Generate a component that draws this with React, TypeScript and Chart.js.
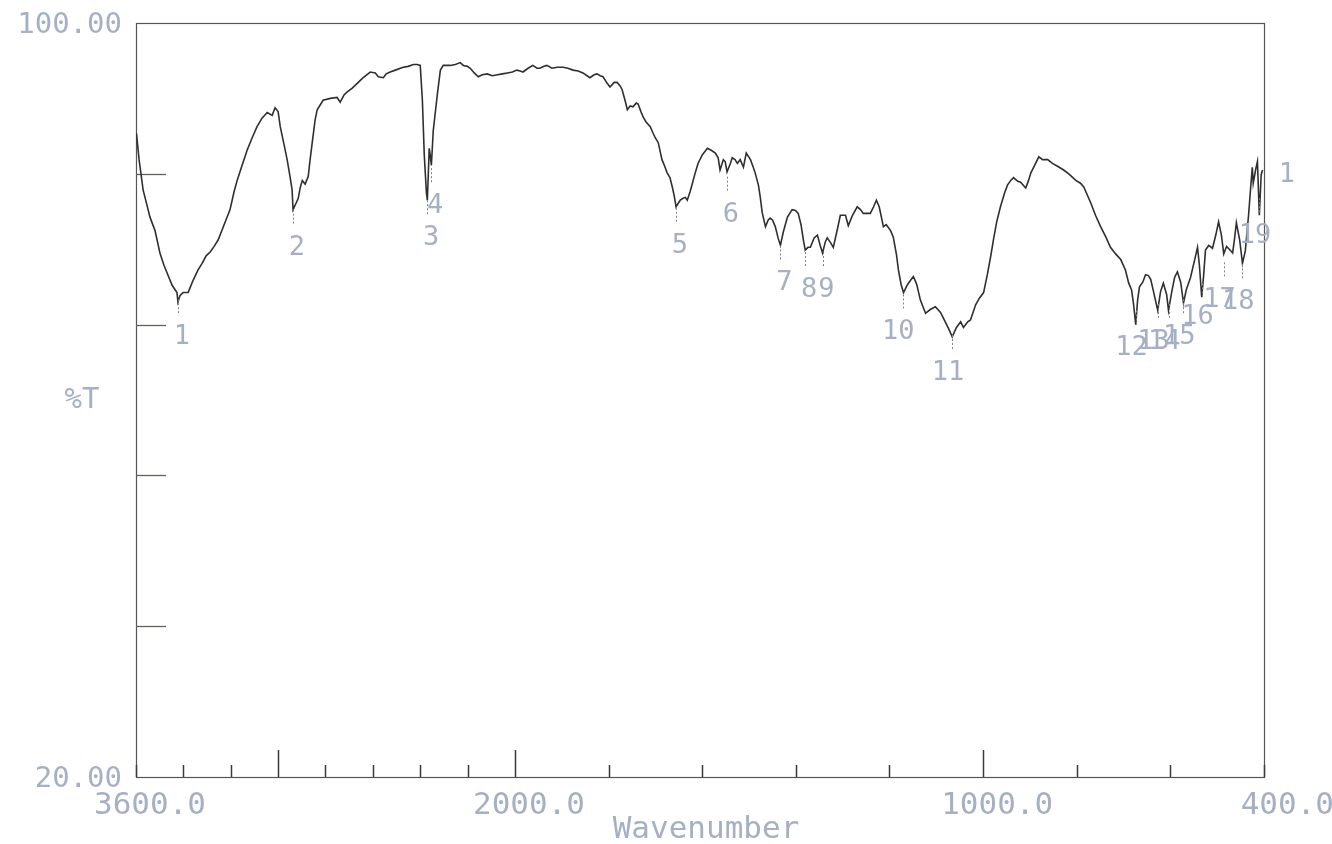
import React, { useEffect, useRef } from 'react';
import { Chart, registerables, LinearScale } from 'chart.js';

// ---- Spectrum data (wavenumber cm-1, %T) ----
const WAVENUMBER = [
  3598, 3587, 3570, 3554, 3541, 3520, 3499, 3482, 3469, 3448, 3435, 3427, 3423, 3414, 3401, 3380, 3372, 3359, 3338, 3321,
  3304, 3287, 3270, 3253, 3228, 3203, 3186, 3173, 3152, 3131, 3110, 3089, 3068, 3046, 3025, 3013, 3000, 2991, 2975, 2962,
  2949, 2941, 2937, 2924, 2915, 2907, 2898, 2886, 2873, 2865, 2856, 2844, 2835, 2810, 2780, 2751, 2738, 2721, 2708, 2687,
  2666, 2641, 2611, 2590, 2577, 2556, 2544, 2527, 2505, 2484, 2472, 2451, 2429, 2413, 2400, 2391, 2383, 2374, 2370, 2366,
  2362, 2357, 2353, 2345, 2328, 2315, 2303, 2273, 2252, 2231, 2218, 2201, 2189, 2172, 2155, 2138, 2117, 2096, 2074, 2053,
  2032, 2011, 1996, 1989, 1983, 1972, 1962, 1953, 1947, 1938, 1932, 1921, 1910, 1897, 1887, 1876, 1865, 1855, 1846, 1840,
  1831, 1825, 1818, 1812, 1803, 1797, 1788, 1782, 1775, 1771, 1765, 1760, 1754, 1748, 1741, 1737, 1731, 1726, 1720, 1711,
  1705, 1701, 1694, 1686, 1681, 1675, 1669, 1664, 1660, 1656, 1651, 1647, 1641, 1636, 1632, 1626, 1621, 1615, 1609, 1600,
  1589, 1581, 1572, 1566, 1562, 1555, 1551, 1547, 1540, 1536, 1530, 1525, 1519, 1512, 1506, 1497, 1491, 1487, 1480, 1476,
  1472, 1465, 1459, 1455, 1450, 1444, 1438, 1433, 1427, 1418, 1408, 1401, 1395, 1389, 1384, 1380, 1374, 1369, 1361, 1354,
  1348, 1343, 1337, 1333, 1326, 1320, 1311, 1305, 1294, 1288, 1279, 1269, 1262, 1256, 1241, 1234, 1228, 1222, 1213, 1207,
  1198, 1192, 1185, 1181, 1175, 1170, 1162, 1155, 1149, 1142, 1134, 1123, 1113, 1102, 1091, 1083, 1074, 1066, 1057, 1048,
  1042, 1033, 1027, 1016, 1008, 999, 991, 984, 978, 971, 963, 954, 948, 941, 935, 926, 920, 909, 903, 898,
  890, 881, 873, 862, 852, 841, 828, 817, 802, 792, 785, 777, 770, 760, 749, 738, 728, 717, 706, 696,
  689, 683, 679, 674, 670, 666, 659, 653, 647, 642, 636, 627, 621, 615, 608, 604, 597, 591, 585, 578,
  572, 566, 557, 548, 542, 538, 533, 529, 525, 518, 510, 503, 497, 491, 486, 480, 474, 467, 463, 459,
  452, 446, 440, 433, 429, 425, 423, 418, 414, 410, 406, 403,
];
const TRANSMITTANCE = [
  88.3, 85.5, 82.3, 80.7, 79.4, 78.0, 75.6, 74.3, 73.5, 72.2, 71.7, 71.4, 70.4, 71.1, 71.4, 71.4, 71.9, 72.7, 73.8, 74.5,
  75.3, 75.7, 76.3, 77.0, 78.6, 80.2, 82.1, 83.3, 84.9, 86.5, 87.8, 89.0, 89.9, 90.5, 90.2, 91.0, 90.6, 89.0, 87.1, 85.5,
  83.6, 82.3, 80.2, 80.9, 81.4, 82.5, 83.3, 82.9, 83.7, 85.5, 87.3, 89.7, 90.8, 91.8, 92.0, 92.1, 91.6, 92.4, 92.7, 93.1,
  93.6, 94.2, 94.8, 94.7, 94.3, 94.2, 94.6, 94.8, 95.0, 95.2, 95.3, 95.4, 95.6, 95.6, 95.5, 91.8, 86.0, 82.0, 81.2, 84.0,
  86.7, 85.8, 84.9, 88.6, 92.4, 95.0, 95.5, 95.5, 95.6, 95.8, 95.5, 95.4, 95.2, 94.7, 94.3, 94.5, 94.6, 94.4, 94.5, 94.6,
  94.7, 94.8, 95.0, 94.9, 94.8, 95.2, 95.5, 95.2, 95.2, 95.4, 95.5, 95.2, 95.3, 95.3, 95.2, 95.0, 94.9, 94.7, 94.4, 94.2,
  94.5, 94.6, 94.4, 94.3, 93.6, 93.2, 93.7, 93.7, 93.3, 92.9, 91.8, 90.8, 91.2, 91.1, 91.5, 91.4, 90.6, 90.0, 89.5, 89.0,
  88.3, 87.9, 87.3, 85.5, 84.9, 84.1, 83.6, 82.6, 81.7, 80.5, 80.9, 81.2, 81.4, 81.5, 81.2, 82.1, 83.0, 84.1, 85.1, 86.0,
  86.7, 86.5, 86.2, 85.7, 84.4, 85.5, 85.3, 84.2, 85.1, 85.7, 85.5, 85.1, 85.5, 84.7, 86.2, 85.5, 84.7, 84.1, 82.8, 81.5,
  79.9, 78.4, 79.1, 79.3, 79.1, 78.4, 77.2, 76.4, 77.8, 79.4, 80.2, 80.1, 79.8, 78.6, 77.0, 75.9, 76.2, 76.2, 77.2, 77.5,
  76.4, 75.6, 76.8, 77.2, 76.7, 76.2, 78.2, 79.6, 79.6, 78.5, 79.6, 80.5, 80.2, 79.8, 79.8, 80.5, 81.2, 80.5, 78.4, 78.6,
  78.0, 77.3, 75.4, 73.8, 72.2, 71.4, 72.2, 72.7, 73.1, 72.3, 70.6, 69.2, 69.6, 69.9, 69.3, 68.5, 67.6, 66.7, 67.7, 68.3,
  67.7, 68.3, 68.5, 70.1, 70.8, 71.4, 73.3, 75.2, 77.0, 78.9, 80.5, 82.0, 82.8, 83.3, 83.6, 83.2, 83.1, 82.5, 83.3, 84.1,
  84.9, 85.8, 85.5, 85.5, 85.1, 84.8, 84.4, 84.0, 83.3, 83.0, 82.6, 81.7, 80.9, 79.6, 78.4, 77.3, 76.2, 75.5, 74.9, 73.8,
  72.4, 71.7, 70.3, 68.0, 70.6, 72.0, 72.5, 73.3, 73.2, 72.8, 71.5, 69.5, 71.5, 72.4, 71.2, 69.5, 71.5, 73.0, 73.6, 72.5,
  70.3, 71.7, 73.0, 74.9, 76.2, 74.3, 70.9, 73.2, 75.9, 76.4, 76.1, 77.5, 78.9, 77.5, 75.5, 76.3, 76.0, 75.6, 77.1, 78.8,
  77.0, 74.5, 75.8, 79.6, 82.2, 84.7, 83.0, 84.4, 85.3, 79.6, 83.9, 84.4,
];

// ---- Peak table ----
const PEAK_LABELS = ['1', '2', '3', '4', '5', '6', '7', '8', '9', '10', '11', '12', '13', '14', '15', '16', '17', '18', '19'];
const PEAK_WN = [3423, 2937, 2370, 2353, 1656, 1547, 1433, 1380, 1343, 1172, 1066, 674, 627, 604, 572, 533, 486, 446, 410];
const PEAK_T = [70.7, 80.2, 81.2, 84.6, 80.4, 83.7, 76.4, 75.7, 75.7, 71.2, 66.9, 69.5, 70.2, 70.2, 70.7, 72.8, 74.6, 74.4, 81.4];

// ---- Axis ticks / labels ----
const X_TICKS = [3600, 3400, 3200, 3000, 2800, 2600, 2400, 2200, 2000, 1800, 1600, 1400, 1200, 1000, 800, 600, 400];
const X_MAJOR_TICKS = [3000, 2000, 1000];
const X_LABEL_VALUES = [3600, 2000, 1000, 400];
const X_LABEL_TEXT = ['3600.0', '2000.0', '1000.0', '400.0'];
const Y_TICKS = [84, 68, 52, 36];
const Y_LABEL_VALUES = [100, 20];
const Y_LABEL_TEXT = ['100.00', '20.00'];
const X_MIN = 400;
const X_MAX = 3600;
const Y_MIN = 20;
const Y_MAX = 100;

const BREAK_WN = 2000;
const HIGH_WN_COMPRESSION = 0.506;

class BreakLinearScale extends LinearScale {
  static id = 'breaklinear';
  static defaults = LinearScale.defaults;
  _u(v: number) {
    return v <= BREAK_WN ? v : BREAK_WN + (v - BREAK_WN) * HIGH_WN_COMPRESSION;
  }
  _v(u: number) {
    return u <= BREAK_WN ? u : BREAK_WN + (u - BREAK_WN) / HIGH_WN_COMPRESSION;
  }
  getPixelForValue(value: number) {
    const a = this._u(this.min);
    const b = this._u(this.max);
    return this.getPixelForDecimal((this._u(value) - a) / (b - a));
  }
  getValueForPixel(pixel: number) {
    const a = this._u(this.min);
    const b = this._u(this.max);
    return this._v(a + this.getDecimalForPixel(pixel) * (b - a));
  }
}

Chart.register(...registerables, BreakLinearScale as any);

const TEXT_COLOR = '#a6b0c4';
const MONO = '"DejaVu Sans Mono", "Liberation Mono", monospace';

const irDecor = {
  id: 'irDecor',
  beforeDatasetsDraw(chart: any) {
    const { ctx, chartArea } = chart;
    const xs = chart.scales.x;
    const ys = chart.scales.y;
    const { left, right, top, bottom } = chartArea;
    ctx.save();
    // frame
    ctx.strokeStyle = '#555555';
    ctx.lineWidth = 1.2;
    ctx.strokeRect(left + 0.5, top + 0.5, right - left, bottom - top);
    // x ticks
    ctx.strokeStyle = '#3a3a3a';
    ctx.lineWidth = 1.5;
    X_TICKS.forEach((t) => {
      const px = Math.round(xs.getPixelForValue(t)) + 0.5;
      const len = X_MAJOR_TICKS.includes(t) ? 27 : 12;
      ctx.beginPath();
      ctx.moveTo(px, bottom);
      ctx.lineTo(px, bottom - len);
      ctx.stroke();
    });
    // y ticks
    ctx.strokeStyle = '#5c6652';
    ctx.lineWidth = 1.3;
    Y_TICKS.forEach((t) => {
      const py = Math.round(ys.getPixelForValue(t)) + 0.5;
      ctx.beginPath();
      ctx.moveTo(left, py);
      ctx.lineTo(left + 30, py);
      ctx.stroke();
    });
    ctx.restore();
  },
  afterDatasetsDraw(chart: any) {
    const { ctx, chartArea } = chart;
    const xs = chart.scales.x;
    const ys = chart.scales.y;
    const { left, right, top, bottom } = chartArea;
    ctx.save();
    // peak markers and labels
    ctx.strokeStyle = '#808080';
    ctx.lineWidth = 1;
    ctx.setLineDash([2, 2]);
    PEAK_WN.forEach((w, i) => {
      const px = Math.round(xs.getPixelForValue(w)) + 0.5;
      const py = ys.getPixelForValue(PEAK_T[i]);
      ctx.beginPath();
      ctx.moveTo(px, py);
      ctx.lineTo(px, py + 16);
      ctx.stroke();
    });
    ctx.setLineDash([]);
    ctx.fillStyle = TEXT_COLOR;
    ctx.font = `27px ${MONO}`;
    ctx.textAlign = 'right';
    ctx.textBaseline = 'middle';
    PEAK_WN.forEach((w, i) => {
      const px = xs.getPixelForValue(w);
      const py = ys.getPixelForValue(PEAK_T[i]);
      ctx.fillText(PEAK_LABELS[i], px + 12, py + 38);
    });
    // x tick labels
    ctx.font = `31px ${MONO}`;
    ctx.textAlign = 'right';
    X_LABEL_VALUES.forEach((v, i) => {
      const px = xs.getPixelForValue(v);
      ctx.fillText(X_LABEL_TEXT[i], px + 70, bottom + 29);
    });
    // y tick labels
    ctx.font = `29px ${MONO}`;
    Y_LABEL_VALUES.forEach((v, i) => {
      const py = ys.getPixelForValue(v);
      ctx.fillText(Y_LABEL_TEXT[i], left - 14, py + 2);
    });
    // axis titles
    ctx.textAlign = 'center';
    ctx.fillText('%T', left - 54, (top + bottom) / 2);
    ctx.font = `31px ${MONO}`;
    ctx.fillText('Wavenumber', (left + right) / 2 + 6, bottom + 53);
    ctx.font = `27px ${MONO}`;
    ctx.fillText('1', right + 23, ys.getPixelForValue(84) + 1);
    ctx.restore();
  },
};

export default function App() {
  const canvasRef = useRef<HTMLCanvasElement | null>(null);

  useEffect(() => {
    const canvas = canvasRef.current;
    if (!canvas) return;
    const points = WAVENUMBER.map((w, i) => ({ x: w, y: TRANSMITTANCE[i] }));
    const chart = new Chart(canvas, {
      type: 'line',
      data: {
        datasets: [
          {
            data: points,
            borderColor: '#2f2f2f',
            borderWidth: 1.6,
            pointRadius: 0,
            fill: false,
            tension: 0,
          },
        ],
      },
      options: {
        animation: false,
        responsive: false,
        devicePixelRatio: 1,
        layout: { padding: { left: 136, right: 68, top: 23, bottom: 67 } },
        plugins: { legend: { display: false }, tooltip: { enabled: false } },
        scales: {
          x: { type: 'breaklinear' as any, min: X_MIN, max: X_MAX, reverse: true, display: false },
          y: { type: 'linear', min: Y_MIN, max: Y_MAX, display: false },
        },
      },
      plugins: [irDecor],
    });
    return () => chart.destroy();
  }, []);

  return (
    <div style={{ position: 'absolute', left: 0, top: 0, width: 1332, height: 844, background: '#ffffff' }}>
      <canvas ref={canvasRef} width={1332} height={844} style={{ display: 'block' }} />
    </div>
  );
}
